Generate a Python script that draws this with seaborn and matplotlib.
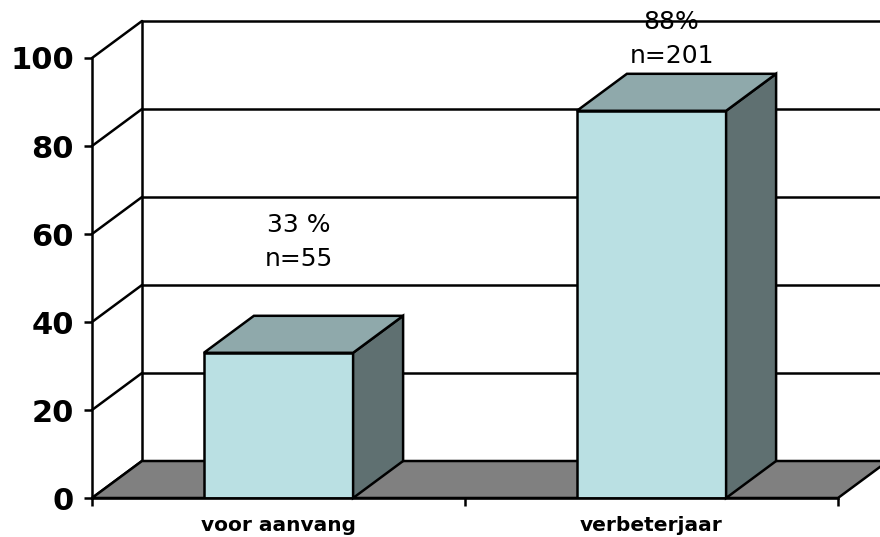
import matplotlib
matplotlib.use("Agg")
import matplotlib.pyplot as plt
from matplotlib.patches import Polygon
import seaborn as sns
import pandas as pd

categories = ["voor aanvang", "verbeterjaar"]
values = [33, 88]
label_pct = ["33 %", "88%"]
label_n = ["n=55", "n=201"]
yticks = [0, 20, 40, 60, 80, 100]

sns.set_style("white")
plt.rcParams["font.family"] = ["DejaVu Sans"]
plt.rcParams["text.color"] = "black"
plt.rcParams["xtick.color"] = "black"
plt.rcParams["ytick.color"] = "black"

W, H = 880, 537
fig = plt.figure(figsize=(W / 100, H / 100), dpi=100)
ax = fig.add_axes([92 / W, (H - 498) / H, 746 / W, 440 / H])

LW = 1.8
FRONT = "#BAE0E3"
TOP = "#8FA9AB"
SIDE = "#5F7071"
FLOOR = "#808080"

df = pd.DataFrame({"cat": categories, "val": values})
sns.barplot(data=df, x="cat", y="val", width=0.4, color=FRONT, saturation=1,
            edgecolor="black", linewidth=LW, ax=ax, zorder=5)

ax.set_xlim(-0.5, 1.5)
ax.set_ylim(0, 100)

# depth offset (data units)
dx = 50 / 373
dy = 37 / 4.4

# back wall gridlines and diagonals
for v in yticks:
    ax.plot([-0.5 + dx, 1.5 + dx], [v + dy, v + dy], color="black", lw=LW,
            clip_on=False, zorder=1)
    ax.plot([-0.5, -0.5 + dx], [v, v + dy], color="black", lw=LW,
            clip_on=False, zorder=1)
ax.plot([-0.5 + dx, -0.5 + dx], [dy, 100 + dy], color="black", lw=LW,
        clip_on=False, zorder=1)

# floor
floor = Polygon([(-0.5, 0), (1.5, 0), (1.5 + dx, dy), (-0.5 + dx, dy)],
                closed=True, facecolor=FLOOR, edgecolor="black", lw=LW,
                clip_on=False, zorder=2, joinstyle="miter")
ax.add_patch(floor)

# 3D top and side faces
hw = 0.2
for i, v in enumerate(values):
    top = Polygon([(i - hw, v), (i + hw, v), (i + hw + dx, v + dy), (i - hw + dx, v + dy)],
                  closed=True, facecolor=TOP, edgecolor="black", lw=LW,
                  clip_on=False, zorder=6)
    side = Polygon([(i + hw, 0), (i + hw + dx, dy), (i + hw + dx, v + dy), (i + hw, v)],
                   closed=True, facecolor=SIDE, edgecolor="black", lw=LW,
                   clip_on=False, zorder=6)
    ax.add_patch(side)
    ax.add_patch(top)

# value labels
label_y1 = [62.0, 108.2]
label_y2 = [54.3, 100.5]
for i in range(len(values)):
    ax.text(i + dx * 0.4, label_y1[i], label_pct[i], ha="center", va="center",
            fontsize=18, zorder=0, clip_on=False, color="black")
    ax.text(i + dx * 0.4, label_y2[i], label_n[i], ha="center", va="center",
            fontsize=18, zorder=10, clip_on=False, color="black")

# axes styling
for s in ["top", "right"]:
    ax.spines[s].set_visible(False)
for s in ["left", "bottom"]:
    ax.spines[s].set_color("black")
    ax.spines[s].set_linewidth(LW)
    ax.spines[s].set_zorder(7)

ax.set_yticks(yticks)
ax.set_yticklabels([str(t) for t in yticks], fontsize=22, fontweight="bold", color="black")
ax.tick_params(axis="y", direction="out", length=6, width=LW, pad=7, colors="black", left=True)

ax.set_xticks([0, 1])
ax.set_xticklabels(categories, fontsize=14.5, fontweight="bold", color="black")
ax.set_xticks([-0.5, 0.5, 1.5], minor=True)
ax.tick_params(axis="x", which="major", length=0, pad=13, colors="black")
ax.tick_params(axis="x", which="minor", direction="out", length=6, width=LW, bottom=True, colors="black")
ax.set_xlabel("")
ax.set_ylabel("")
ax.patch.set_alpha(0)

fig.savefig("out.png", dpi=100)
